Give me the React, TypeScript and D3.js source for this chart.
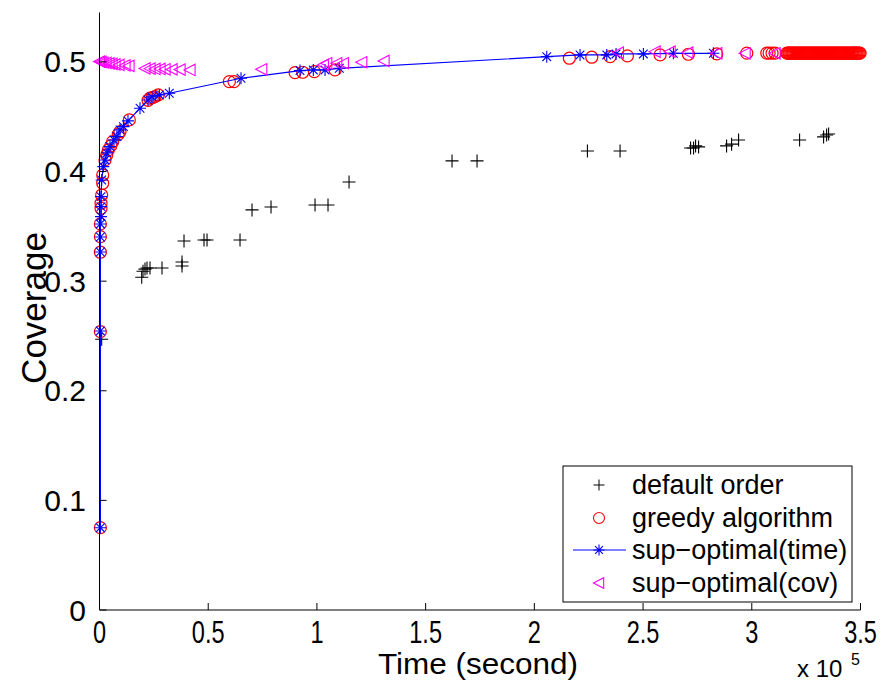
import React from "react";
import * as d3 from "d3";

const W = 883;
const H = 683;

// ---------- data ----------
const xTicks = [0, 50000, 100000, 150000, 200000, 250000, 300000, 350000];
const xTickLabels = ["0", "0.5", "1", "1.5", "2", "2.5", "3", "3.5"];
const yTicks = [0, 0.1, 0.2, 0.3, 0.4, 0.5];
const yTickLabels = ["0", "0.1", "0.2", "0.3", "0.4", "0.5"];

// [time (s), coverage]
const defaultOrder: [number, number][] = [
  [1000, 0.247], [19410, 0.3036], [20010, 0.309], [20930, 0.311], [21850, 0.312], [23230, 0.312],
  [28750, 0.312], [37950, 0.3175], [37950, 0.3139], [38870, 0.3367], [48070, 0.3376], [49450, 0.3376],
  [64630, 0.3376], [70150, 0.365], [78890, 0.3677], [99130, 0.3695], [105100, 0.3695], [114770, 0.3905],
  [162140, 0.4097], [173640, 0.4097], [224400, 0.4188], [239420, 0.4188], [271850, 0.4215], [273230, 0.4215],
  [274150, 0.4234], [275530, 0.4225], [288410, 0.4234], [290710, 0.425], [293930, 0.4288], [321990, 0.4288],
  [333030, 0.4316], [334410, 0.4334], [335330, 0.4343],
];

const greedy: [number, number][] = [
  [400, 0.0751], [400, 0.254], [400, 0.3264], [400, 0.3406], [400, 0.3522], [700, 0.3665], [700, 0.3711],
  [1000, 0.3786], [1470, 0.3893], [1470, 0.3969], [2530, 0.4106], [3310, 0.4151], [4050, 0.4197],
  [5150, 0.4234], [6070, 0.4273], [8650, 0.434], [9430, 0.4364], [13710, 0.4471], [22310, 0.465],
  [23230, 0.4669], [24300, 0.4675], [25530, 0.4683], [27050, 0.4699], [59710, 0.482], [61870, 0.482],
  [89930, 0.4903], [93470, 0.4906], [98800, 0.4912], [108330, 0.4927], [216100, 0.5034], [226400, 0.5043],
  [234820, 0.5048], [242780, 0.5055], [257820, 0.5064], [270840, 0.507], [283900, 0.5073], [297700, 0.508],
  [306900, 0.508], [307960, 0.508], [309340, 0.508], [310720, 0.508],
  [316100, 0.508], [316600, 0.508], [317100, 0.508], [317500, 0.508], [318000, 0.508], [318500, 0.508],
  [319000, 0.508], [319400, 0.508], [319900, 0.508], [320400, 0.508], [320900, 0.508], [321300, 0.508],
  [321800, 0.508], [322300, 0.508], [322800, 0.508], [323200, 0.508], [323700, 0.508], [324200, 0.508],
  [324700, 0.508], [325100, 0.508], [325600, 0.508], [326100, 0.508], [326600, 0.508], [327000, 0.508],
  [327500, 0.508], [328000, 0.508], [328500, 0.508], [328900, 0.508], [329400, 0.508], [329900, 0.508],
  [330400, 0.508], [330800, 0.508], [331300, 0.508], [331800, 0.508], [332300, 0.508], [332700, 0.508],
  [333200, 0.508], [333700, 0.508], [334200, 0.508], [334600, 0.508], [335100, 0.508], [335600, 0.508],
  [336100, 0.508], [336500, 0.508], [337000, 0.508], [337500, 0.508], [338000, 0.508], [338400, 0.508],
  [338900, 0.508], [339400, 0.508], [339900, 0.508], [340300, 0.508], [340800, 0.508], [341300, 0.508],
  [341800, 0.508], [342200, 0.508], [342700, 0.508], [343200, 0.508], [343700, 0.508], [344100, 0.508],
  [344600, 0.508], [345100, 0.508], [345600, 0.508], [346000, 0.508], [346500, 0.508], [347000, 0.508],
  [347500, 0.508], [347900, 0.508], [348400, 0.508], [348900, 0.508], [349400, 0.508], [349800, 0.508],
];

const timeOpt: [number, number][] = [
  [400, 0.0751], [400, 0.2546], [400, 0.3266], [400, 0.3403], [400, 0.3522], [700, 0.3589], [700, 0.368],
  [700, 0.3771], [1000, 0.3923], [1750, 0.4045], [2530, 0.4106], [3450, 0.417], [4830, 0.4227],
  [6670, 0.4288], [8000, 0.432], [9430, 0.438], [11000, 0.441], [13110, 0.4462], [18630, 0.4577],
  [22310, 0.4653], [24150, 0.4681], [27510, 0.4699], [32110, 0.4714], [65090, 0.4851], [92230, 0.4921],
  [98340, 0.4927], [103730, 0.4927], [110300, 0.4942], [205700, 0.5048], [221020, 0.5064], [233300, 0.5064],
  [237580, 0.5073], [250140, 0.5073], [263940, 0.5079], [282340, 0.5079],
];

const covOpt: [number, number][] = [
  [0, 0.5003], [690, 0.5], [1610, 0.4995], [2990, 0.4991], [4370, 0.4986], [5750, 0.4982], [7130, 0.4977],
  [8970, 0.4973], [11730, 0.4968], [13570, 0.4964], [20930, 0.4941], [23230, 0.4939], [25530, 0.4936],
  [27830, 0.4936], [30130, 0.4933], [33350, 0.4932], [37030, 0.493], [41630, 0.4927], [74610, 0.4933],
  [102940, 0.4973], [104510, 0.4988], [109110, 0.4988], [112140, 0.4988], [120610, 0.4997], [130860, 0.5009],
  [238640, 0.5085], [255520, 0.5094], [262420, 0.5094], [270560, 0.5085], [283900, 0.5079], [296920, 0.5079],
  [310720, 0.5079],
];

const legendLabels = ["default order", "greedy algorithm", "sup\u2212optimal(time)", "sup\u2212optimal(cov)"];

// ---------- layout ----------
const X0 = 99.5;
const X1 = 860.5;
const Y0 = 610;
const YTOP = 12.5;

const x = d3.scaleLinear().domain([0, 350000]).range([X0, X1]);
const y = d3.scaleLinear().domain([0, 0.5451]).range([Y0, YTOP]);

const FONT = "'Liberation Sans', Arial, Helvetica, sans-serif";

const plusPath = (r: number) => `M${-r},0H${r}M0,${-r}V${r}`;
const starPath = (r: number) => {
  const d = r * 0.72;
  return `M${-r},0H${r}M0,${-r}V${r}M${-d},${-d}L${d},${d}M${-d},${d}L${d},${-d}`;
};
const triPath = (r: number) => `M${-r},0L${r * 0.85},${-r * 0.95}L${r * 0.85},${r * 0.95}Z`;

export default function App() {
  const line = d3
    .line<[number, number]>()
    .x((d) => x(d[0]))
    .y((d) => y(d[1]));

  const legX = 563;
  const legY = 466;
  const legW = 289;
  const legH = 136;
  const rowY = [485, 518, 550, 583];
  const markX = 599;
  const textX = 632;

  return (
    <svg
      width={W}
      height={H}
      style={{ position: "absolute", left: 0, top: 0, background: "#fff" }}
      fontFamily={FONT}
    >
      <rect x={0} y={0} width={W} height={H} fill="#fff" />

      {/* default order */}
      <g stroke="#000" strokeWidth={1.1} fill="none">
        {defaultOrder.map((d, i) => (
          <path key={i} d={plusPath(6.5)} transform={`translate(${x(d[0])},${y(d[1])})`} />
        ))}
      </g>

      {/* greedy */}
      <g stroke="#ff0000" strokeWidth={1.2} fill="none">
        {greedy.map((d, i) => (
          <circle key={i} cx={x(d[0])} cy={y(d[1])} r={6} />
        ))}
      </g>

      {/* sup-optimal(time) */}
      <path d={line(timeOpt) || ""} stroke="#0000ff" strokeWidth={1.2} fill="none" />
      <g stroke="#0000ff" strokeWidth={1.1} fill="none">
        {timeOpt.map((d, i) => (
          <path key={i} d={starPath(6)} transform={`translate(${x(d[0])},${y(d[1])})`} />
        ))}
      </g>

      {/* sup-optimal(cov) */}
      <g stroke="#ff00ff" strokeWidth={1.1} fill="none">
        {covOpt.map((d, i) => (
          <path key={i} d={triPath(6)} transform={`translate(${x(d[0])},${y(d[1])})`} />
        ))}
      </g>

      {/* axes */}
      <g stroke="#000" strokeWidth={1} fill="none">
        <line x1={X0} y1={YTOP} x2={X0} y2={Y0} />
        <line x1={X0} y1={Y0} x2={X1} y2={Y0} />
        {xTicks.map((t, i) => (
          <line key={"xt" + i} x1={x(t)} x2={x(t)} y1={Y0} y2={Y0 - 7} />
        ))}
        {yTicks.map((t, i) => (
          <line key={"yt" + i} x1={X0} x2={X0 + 7} y1={y(t)} y2={y(t)} />
        ))}
      </g>

      {/* x tick labels */}
      {xTicks.map((t, i) => (
        <text
          key={"xl" + i}
          transform={`translate(${x(t)},${643}) scale(0.76,1)`}
          textAnchor="middle"
          fontSize={31}
          fill="#000"
        >
          {xTickLabels[i]}
        </text>
      ))}

      {/* y tick labels */}
      {yTicks.map((t, i) => (
        <text
          key={"yl" + i}
          x={86}
          y={y(t)}
          textAnchor="end"
          dominantBaseline="central"
          fontSize={30}
          fill="#000"
        >
          {yTickLabels[i]}
        </text>
      ))}

      {/* axis titles */}
      <text
        transform={`translate(478,674) scale(1.05,1)`}
        textAnchor="middle"
        fontSize={30}
        fill="#000"
      >
        Time (second)
      </text>
      <text
        transform={`translate(33,308) rotate(-90)`}
        textAnchor="middle"
        dominantBaseline="central"
        fontSize={35}
        fill="#000"
      >
        Coverage
      </text>
      <text transform={`translate(797,677)`} fontSize={24} fill="#000">
        x 10
      </text>
      <text transform={`translate(851,665)`} fontSize={16} fill="#000">
        5
      </text>

      {/* legend */}
      <rect x={legX} y={legY} width={legW} height={legH} fill="#fff" stroke="#000" strokeWidth={1} />
      <path d={plusPath(5.5)} transform={`translate(${markX},${rowY[0]})`} stroke="#000" strokeWidth={1} fill="none" />
      <circle cx={markX} cy={rowY[1]} r={5.5} stroke="#ff0000" strokeWidth={1.1} fill="none" />
      <line x1={573} x2={626} y1={rowY[2]} y2={rowY[2]} stroke="#0000ff" strokeWidth={1.2} />
      <path d={starPath(5.5)} transform={`translate(${markX},${rowY[2]})`} stroke="#0000ff" strokeWidth={1.1} fill="none" />
      <path d={triPath(5.5)} transform={`translate(${markX},${rowY[3]})`} stroke="#ff00ff" strokeWidth={1.1} fill="none" />
      {legendLabels.map((s, i) => (
        <text key={"lg" + i} x={textX} y={rowY[i]} dominantBaseline="central" fontSize={27} fill="#000">
          {s}
        </text>
      ))}
    </svg>
  );
}
